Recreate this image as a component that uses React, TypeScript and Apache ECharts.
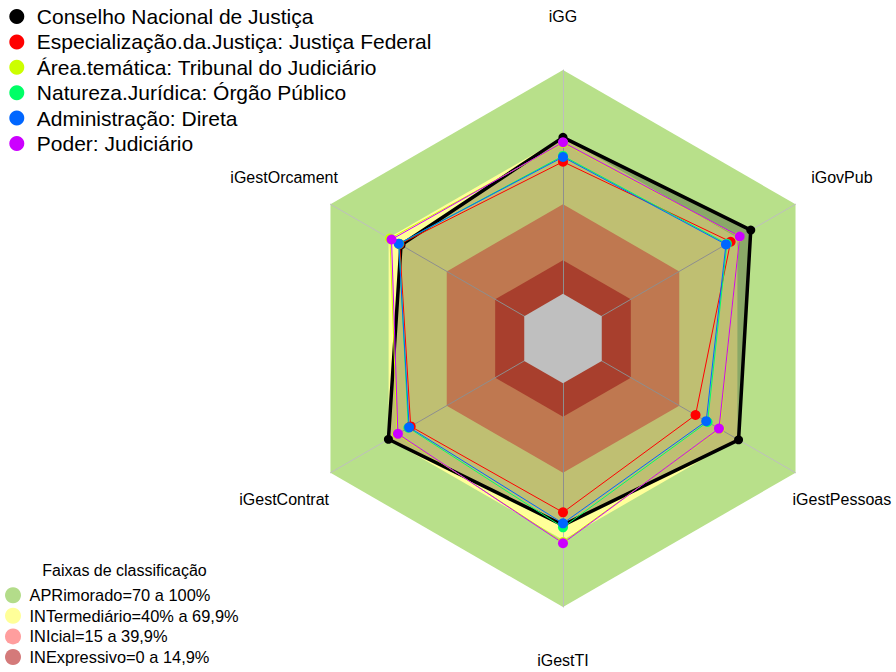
import React, { useEffect, useRef } from "react";
import * as echarts from "echarts";

// Indicators in ECharts order (counter-clockwise from the top)
const indicators = ["iGG", "iGestOrcament", "iGestContrat", "iGestTI", "iGestPessoas", "iGovPub"];

const seriesNames = [
  "Conselho Nacional de Justiça",
  "Especialização.da.Justiça: Justiça Federal",
  "Área.temática: Tribunal do Judiciário",
  "Natureza.Jurídica: Órgão Público",
  "Administração: Direta",
  "Poder: Judiciário",
];
const seriesColors = ["#000000", "#FF0000", "#CCFF00", "#00FF66", "#0066FF", "#CC00FF"];

const cnj = [69.9, 63.6, 70.1, 63.4, 70.6, 76.9];
const justicaFederal = [59.0, 64.3, 58.6, 57.7, 48.4, 66.5];
const tribunal = [67.4, 69.3, 65.6, 71.0, 60.8, 71.0];
const orgaoPublico = [61.6, 64.6, 59.8, 64.4, 54.6, 64.6];
const direta = [61.1, 64.8, 59.4, 62.6, 53.9, 64.1];
const judiciario = [67.7, 68.5, 65.2, 71.5, 60.5, 71.2];
const seriesValues = [cnj, justicaFederal, tribunal, orgaoPublico, direta, judiciario];

const bandNames = [
  "APRimorado=70 a 100%",
  "INTermediário=40% a 69,9%",
  "INIcial=15 a 39,9%",
  "INExpressivo=0 a 14,9%",
];
const bandUpper = [100, 70, 40, 15];
const bandFloor = 0;
const bandColors = ["#b8e08a", "#ffff99", "#ffa06b", "#e0553c"];
const bandLegendColors = ["#b3dc8a", "#ffff99", "#ff9e9e", "#d47a7a"];

const axisMin = -20;
const axisMax = 100;

const FONT = "Liberation Sans, Arial, sans-serif";

export default function App() {
  const ref = useRef<HTMLDivElement>(null);

  useEffect(() => {
    if (!ref.current) return;
    const chart = echarts.init(ref.current, null, { renderer: "svg" });

    const cx = 563;
    const cy = 338.5;
    const R = 268.5;
    const L = 322;

    const bandSeries = bandNames.map((name, i) => ({
      type: "radar",
      name,
      z: 1,
      silent: true,
      symbol: "none",
      lineStyle: { opacity: 0, width: 0 },
      itemStyle: { color: bandColors[i] },
      areaStyle: { color: bandColors[i], opacity: 1 },
      data: [{ name, value: indicators.map(() => bandUpper[i]) }],
    }));

    const centerSeries = {
      type: "radar",
      name: "centro",
      z: 4,
      silent: true,
      symbol: "none",
      lineStyle: { opacity: 0, width: 0 },
      itemStyle: { color: "#ffffff" },
      areaStyle: { color: "#ffffff", opacity: 1 },
      data: [{ name: "centro", value: indicators.map(() => bandFloor) }],
    };

    const dataSeries = seriesNames.map((name, i) => {
      const isMain = i === 0;
      return {
        type: "radar",
        name,
        z: isMain ? 5 : 6,
        symbol: "circle",
        symbolSize: isMain ? 9 : 10,
        itemStyle: { color: seriesColors[i] },
        lineStyle: { color: seriesColors[i], width: isMain ? 3.5 : 1 },
        areaStyle: isMain ? { color: "#000000", opacity: 0.25 } : undefined,
        data: [{ name, value: seriesValues[i] }],
      };
    });

    const axisNameGraphics = indicators.map((name, i) => {
      const a = ((90 + 60 * i) * Math.PI) / 180;
      return {
        type: "text",
        x: cx + L * Math.cos(a),
        y: cy - L * Math.sin(a),
        style: {
          text: name,
          font: `16px ${FONT}`,
          fill: "#000",
          textAlign: "center",
          textVerticalAlign: "middle",
        },
        z: 20,
      };
    });

    chart.setOption({
      animation: false,
      backgroundColor: "#ffffff",
      radar: {
        center: [cx, cy],
        radius: R,
        startAngle: 90,
        shape: "polygon",
        splitNumber: 6,
        z: 3,
        indicator: indicators.map((n) => ({ name: n, min: axisMin, max: axisMax })),
        axisName: { show: false },
        splitLine: { show: false },
        splitArea: { show: false },
        axisTick: { show: false },
        axisLabel: { show: false },
        axisLine: { show: true, lineStyle: { color: "#bebebe", width: 1 } },
      },
      legend: [
        {
          orient: "vertical",
          left: 4.3,
          top: 1,
          itemWidth: 30,
          itemHeight: 15,
          itemGap: 4.4,
          icon: "circle",
          selectedMode: false,
          textStyle: { fontSize: 21, fontFamily: FONT, color: "#000" },
          data: seriesNames,
        },
        {
          orient: "vertical",
          left: 0,
          bottom: 2,
          itemWidth: 23,
          itemHeight: 16,
          itemGap: 4.6,
          icon: "circle",
          selectedMode: false,
          textStyle: { fontSize: 16.4, fontFamily: FONT, color: "#000" },
          data: bandNames.map((n, i) => ({ name: n, itemStyle: { color: bandLegendColors[i] } })),
        },
      ],
      graphic: [
        ...axisNameGraphics,
        {
          type: "text",
          x: 124.5,
          y: 570,
          style: {
            text: "Faixas de classificação",
            font: `16px ${FONT}`,
            fill: "#000",
            textAlign: "center",
            textVerticalAlign: "middle",
          },
        },
      ],
      series: [...bandSeries, centerSeries, ...dataSeries],
    });

    return () => chart.dispose();
  }, []);

  return (
    <div
      ref={ref}
      style={{ position: "fixed", left: 0, top: 0, width: 896, height: 672 }}
    />
  );
}
